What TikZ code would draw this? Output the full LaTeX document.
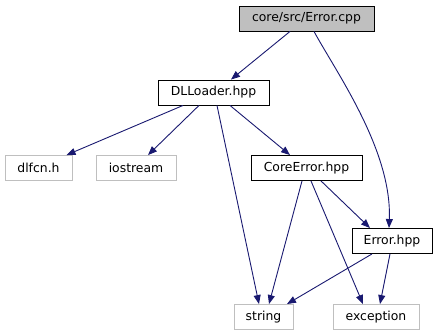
\documentclass[tikz,border=0pt]{standalone}
\usepackage{fontspec}
\setmainfont{DejaVu Sans}
\usepackage{xcolor}
\usepackage{tikz}
\usetikzlibrary{arrows.meta}
\definecolor{edgeblue}{HTML}{191970}
\definecolor{boxgray}{HTML}{BFBFBF}

\begin{document}
\begin{tikzpicture}[x=1pt, y=-1pt,
		font=\fontsize{12.4}{14}\selectfont,
		file/.style={draw=black, line width=0.9pt, minimum height=25pt, inner sep=0pt},
		sysfile/.style={draw=boxgray, line width=0.9pt, minimum height=25pt, inner sep=0pt},
		dep/.style={draw=edgeblue, line width=0.9pt, -{Triangle[length=9pt,width=7pt]}}]
			\useasboundingbox (0,0) rectangle (437,336);
			\node[file, fill=boxgray, minimum width=135pt] (cpp) at (306.5,18.5) {core/src/Error.cpp};
			\node[file, minimum width=111pt] (dl) at (213.5,92.5) {DLLoader.hpp};
			\node[sysfile, minimum width=67pt] (dlfcn) at (38.5,168) {dlfcn.h};
			\node[sysfile, minimum width=80pt] (ios) at (136,168) {iostream};
			\node[file, minimum width=111pt] (core) at (306.5,168) {CoreError.hpp};
			\node[file, minimum width=80pt] (err) at (392,241) {Error.hpp};
			\node[sysfile, minimum width=59pt] (str) at (263.5,317) {string};
			\node[sysfile, minimum width=86pt] (exc) at (376,317) {exception};
			\draw[dep] ([xshift=-16.5pt]cpp.south) -- ([xshift=17.5pt]dl.north);
			\draw[dep] ([xshift=7.5pt]cpp.south) .. controls (336,72) and (392,150) .. ([xshift=-3pt]err.north);
			\draw[dep] ([xshift=-30.5pt]dl.south) -- ([xshift=28pt]dlfcn.north);
			\draw[dep] ([xshift=-14.5pt]dl.south) -- ([xshift=12pt]ios.north);
			\draw[dep] ([xshift=3.5pt]dl.south) -- ([xshift=-4.5pt]str.north);
			\draw[dep] ([xshift=16.5pt]dl.south) -- ([xshift=-16.5pt]core.north);
			\draw[dep] ([xshift=-4.5pt]core.south) -- ([xshift=5.5pt]str.north);
			\draw[dep] ([xshift=4.5pt]core.south) -- ([xshift=-13pt]exc.north);
			\draw[dep] ([xshift=14.5pt]core.south) -- ([xshift=-22pt]err.north);
			\draw[dep] ([xshift=-20pt]err.south) -- ([xshift=23.5pt]str.north);
			\draw[dep] ([xshift=-2pt]err.south) -- ([xshift=4pt]exc.north);
		\end{tikzpicture}
\end{document}
